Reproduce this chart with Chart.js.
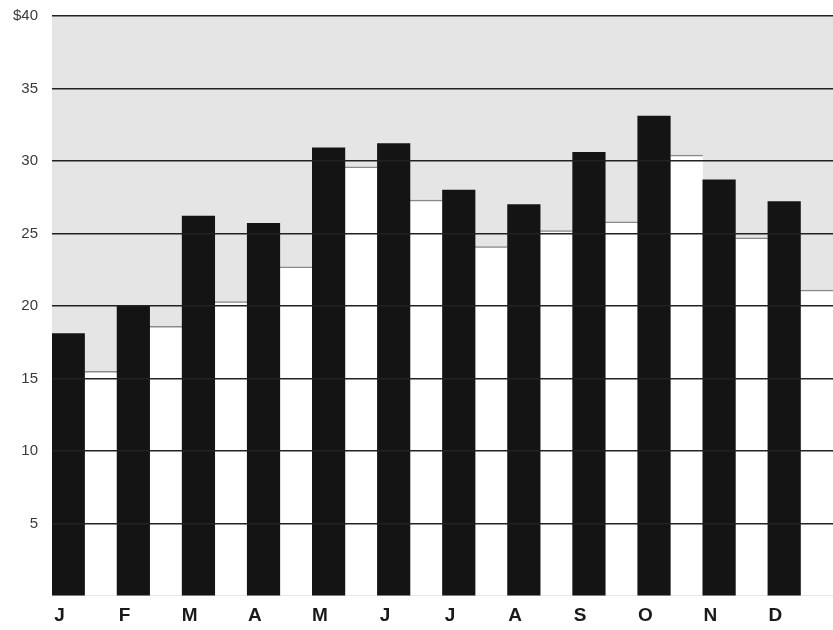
<!DOCTYPE html>
<html>
<head>
<meta charset="utf-8">
<script src="https://cdn.jsdelivr.net/npm/chart.js@4"></script>
<style>
  html, body { margin: 0; padding: 0; background: #ffffff; }
  #wrap { width: 833px; height: 630px; }
</style>
</head>
<body>
<div id="wrap"><canvas id="c" width="833" height="630"></canvas></div>
<script>
// Monthly prices, two series per month
const months = ['J', 'F', 'M', 'A', 'M', 'J', 'J', 'A', 'S', 'O', 'N', 'D'];
const darkSeries = [18.1, 20.0, 26.2, 25.7, 30.9, 31.2, 28.0, 27.0, 30.6, 33.1, 28.7, 27.2];
const lightSeries = [15.5, 18.6, 20.3, 22.7, 29.6, 27.3, 24.1, 25.2, 25.8, 30.4, 24.7, 21.1];
const yTicks = [0, 5, 10, 15, 20, 25, 30, 35, 40];

// Light grey plot background
const plotBackground = {
  id: 'plotBackground',
  beforeDraw(chart) {
    const { ctx, chartArea: a } = chart;
    ctx.save();
    ctx.fillStyle = '#e5e5e5';
    ctx.fillRect(a.left, a.top, a.right - a.left, a.bottom - a.top);
    ctx.restore();
  }
};

new Chart(document.getElementById('c'), {
  type: 'bar',
  data: {
    labels: months,
    datasets: [
      {
        data: darkSeries,
        backgroundColor: '#141414',
        borderWidth: 0,
        categoryPercentage: 1,
        barPercentage: 1
      },
      {
        data: lightSeries,
        backgroundColor: '#ffffff',
        borderColor: '#8a8a8a',
        borderWidth: { top: 1.5, left: 0, right: 0, bottom: 1 },
        categoryPercentage: 1,
        barPercentage: 1
      }
    ]
  },
  options: {
    responsive: false,
    animation: false,
    layout: { padding: { top: 16, right: 0, left: 0, bottom: 0 } },
    plugins: {
      legend: { display: false },
      tooltip: { enabled: false }
    },
    scales: {
      x: {
        grid: { display: false },
        border: { display: false },
        ticks: {
          labelOffset: -25,
          padding: 0,
          color: '#1a1a1a',
          font: { family: '"Liberation Sans", Arial, sans-serif', size: 19, weight: 'bold' },
          maxRotation: 0,
          autoSkip: false
        },
        afterFit(scale) { scale.height = 34; }
      },
      y: {
        min: 0,
        max: 40,
        afterBuildTicks(scale) { scale.ticks = yTicks.map(v => ({ value: v })); },
        grid: {
          z: 1,
          drawTicks: false,
          lineWidth: 1.5,
          color: (ctx) => (ctx.tick && ctx.tick.value === 0 ? 'rgba(0,0,0,0)' : '#222222')
        },
        border: { display: false },
        ticks: {
          padding: 14,
          color: '#3a3a3a',
          font: { family: '"Liberation Sans", Arial, sans-serif', size: 15 },
          callback: (v) => (v === 0 ? '' : (v === 40 ? '$' + v : String(v)))
        },
        afterFit(scale) {
          scale.width = 52;
          scale.paddingTop = 0;
        }
      }
    }
  },
  plugins: [plotBackground]
});
</script>
</body>
</html>
